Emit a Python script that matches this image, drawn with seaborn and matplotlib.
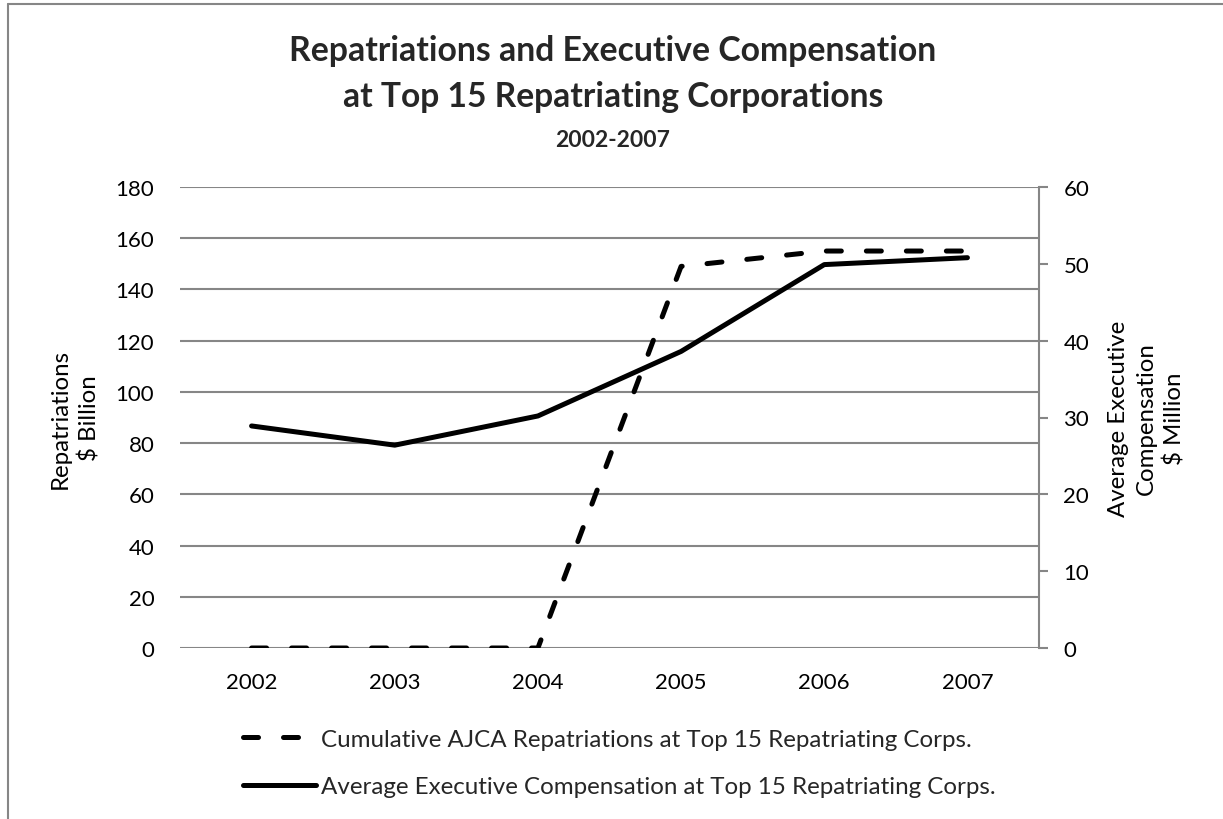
import numpy as np
import pandas as pd
import matplotlib
matplotlib.use("Agg")
import matplotlib.pyplot as plt
from matplotlib.lines import Line2D
import seaborn as sns

# ---- data ----
years = ["2002", "2003", "2004", "2005", "2006", "2007"]
repatriations = [0, 0, 0, 149, 155, 155]            # $ Billion (left axis)
compensation = [28.9, 26.4, 30.2, 38.6, 49.9, 50.8]  # $ Million (right axis)
series_labels = [
    "Cumulative AJCA Repatriations at Top 15 Repatriating Corps.",
    "Average Executive Compensation at Top 15 Repatriating Corps.",
]
left_ticks = list(range(0, 181, 20))
right_ticks = list(range(0, 61, 10))

sns.set_theme(style="white")
plt.rcParams["font.family"] = ["Lato", "DejaVu Sans"]

W, H = 1223, 820
fig = plt.figure(figsize=(W / 100, H / 100), dpi=100)
L, R, T, B = 180, 1039, 188, 649
ax = fig.add_axes([L / W, 1 - B / H, (R - L) / W, (B - T) / H])
ax2 = ax.twinx()

df = pd.DataFrame({"pos": np.arange(len(years)), "year": years,
                   "rep": repatriations, "comp": compensation})

GRAY = "#868686"
sns.lineplot(data=df, x="pos", y="rep", ax=ax, color="black", lw=3.6,
             label=series_labels[0], legend=False)
l1 = ax.lines[-1]
l1.set_dashes((3, 5))
l1.set_dash_capstyle("round")
l1.set_solid_joinstyle("round")

sns.lineplot(data=df, x="pos", y="comp", ax=ax2, color="black", lw=3.6,
             label=series_labels[1], legend=False)
l2 = ax2.lines[-1]
l2.set_solid_capstyle("round")
l2.set_solid_joinstyle("round")

ax.set_xlim(-0.5, len(years) - 0.5)
ax.set_ylim(0, 180)
ax2.set_ylim(0, 60)
ax.set_yticks(left_ticks)
ax2.set_yticks(right_ticks)
ax.set_xticks(np.arange(len(years)))
ax.set_xticklabels(years)
ax.set_xlabel("")

ax.yaxis.grid(True, color=GRAY, lw=1.5)
ax.xaxis.grid(False)
ax.set_axisbelow(True)
ax2.grid(False)
for s in ax.spines.values():
    s.set_visible(False)
for k, s in ax2.spines.items():
    s.set_visible(k == "right")
ax2.spines["right"].set_color(GRAY)
ax2.spines["right"].set_linewidth(1.5)

ax.tick_params(axis="y", length=0, pad=18.5, labelsize=16, labelcolor="black")
ax.tick_params(axis="x", length=0, pad=17, labelsize=16, labelcolor="black")
ax2.tick_params(axis="y", length=6.5, width=1.5, color=GRAY, pad=11,
                labelsize=16, labelcolor="black", direction="out")

ax.set_ylabel("Repatriations\n\\$ Billion", fontsize=17.3, multialignment="center",
              va="center", color="black", linespacing=1.45)
ax.yaxis.set_label_coords((75 - L) / (R - L), 0.5)
ax2.set_ylabel("Average Executive\nCompensation\n\\$ Million", fontsize=17.3,
               multialignment="center", va="center", rotation=90, color="black",
               linespacing=1.4)
ax2.yaxis.set_label_coords((1147 - L) / (R - L), 0.5)

# titles
cx = 613 / W
fig.text(cx, 1 - 61 / H, "Repatriations and Executive Compensation",
         ha="center", va="baseline", fontsize=24.3, fontweight="bold")
fig.text(cx, 1 - 106.7 / H, "at Top 15 Repatriating Corporations",
         ha="center", va="baseline", fontsize=24.2, fontweight="bold")
fig.text(cx, 1 - 146.7 / H, "2002-2007",
         ha="center", va="baseline", fontsize=16.5, fontweight="bold")

# legend
fig.legend([l1, l2], series_labels, loc="center left",
           bbox_to_anchor=(243 / W, 1 - 764 / H), frameon=False,
           borderpad=0, borderaxespad=0, handlelength=3.0,
           handletextpad=0.22, labelspacing=1.09, fontsize=17.4)

# chart border (top and left visible)
fig.add_artist(Line2D([8 / W, 8 / W], [0, 1 - 4.7 / H], transform=fig.transFigure,
                      color=GRAY, lw=1.5))
fig.add_artist(Line2D([8 / W, 1], [1 - 4.7 / H, 1 - 4.7 / H], transform=fig.transFigure,
                      color=GRAY, lw=1.5))

fig.savefig("out.png", dpi=100)
